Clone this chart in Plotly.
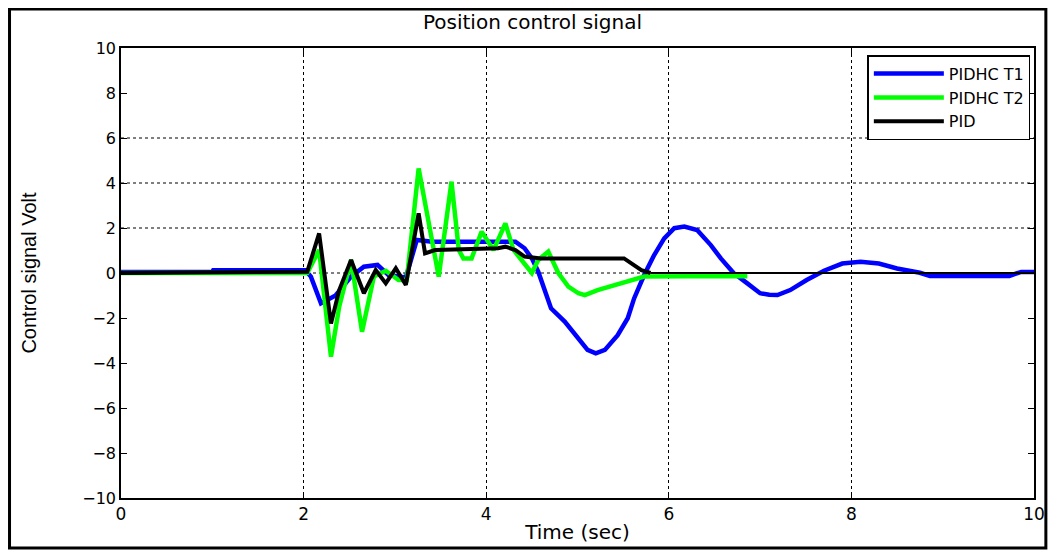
import plotly.graph_objects as go

# PIDHC T1 (blue)
t1_t = [0, 1.0, 1.01, 2.02, 2.08, 2.19, 2.35, 2.52, 2.66, 2.81, 2.93, 3.12, 3.24, 3.41, 4.0,
        4.32, 4.42, 4.5, 4.57, 4.64, 4.71, 4.86, 5.01, 5.11, 5.2, 5.3, 5.44, 5.55, 5.62, 5.73,
        5.84, 5.95, 6.06, 6.17, 6.31, 6.46, 6.57, 6.71, 6.86, 7.0, 7.1, 7.19, 7.33, 7.51, 7.7,
        7.9, 8.1, 8.3, 8.5, 8.75, 8.86, 9.73, 9.86, 10]
t1_v = [0.05, 0.05, 0.12, 0.12, -0.16, -1.35, -1.0, -0.16, 0.28, 0.36, -0.09, -0.2, 1.47,
        1.39, 1.39, 1.39, 1.1, 0.65, 0.06, -0.83, -1.57, -2.16, -2.9, -3.42, -3.57, -3.42,
        -2.76, -2.01, -1.13, -0.09, 0.8, 1.54, 1.99, 2.06, 1.91, 1.24, 0.65, 0.0, -0.46, -0.9,
        -0.97, -0.98, -0.76, -0.31, 0.1, 0.42, 0.5, 0.42, 0.2, 0.01, -0.13, -0.13, 0.05, 0.05]

# PIDHC T2 (green)
t2_t = [0, 2.04, 2.17, 2.3, 2.39, 2.52, 2.64, 2.77, 2.9, 3.04, 3.13, 3.26, 3.48, 3.62, 3.7,
        3.75, 3.84, 3.95, 4.08, 4.21, 4.3, 4.39, 4.5, 4.57, 4.68, 4.79, 4.9, 5.01, 5.08, 5.22,
        5.41, 5.59, 5.73, 6.2, 6.86]
t2_v = [0.0, 0.0, 1.02, -3.72, -1.5, 0.58, -2.61, -0.16, 0.1, -0.31, -0.31, 4.65, -0.16, 4.06,
        1.02, 0.65, 0.65, 1.84, 1.02, 2.2, 1.02, 0.58, 0.0, 0.58, 0.95, 0.0, -0.6, -0.9, -0.98,
        -0.76, -0.53, -0.31, -0.16, -0.14, -0.14]

# PID (black)
pid_t = [0, 2.04, 2.17, 2.3, 2.39, 2.52, 2.66, 2.79, 2.9, 3.01, 3.12, 3.26, 3.33, 3.44, 4.13,
         4.21, 4.32, 4.42, 4.6, 5.51, 5.59, 5.7, 5.8]
pid_v = [0.0, 0.06, 1.76, -2.24, -0.76, 0.58, -0.9, 0.13, -0.46, 0.21, -0.53, 2.65, 0.87,
         1.02, 1.1, 1.17, 1.02, 0.73, 0.65, 0.65, 0.43, 0.13, 0.0]
pid_tail_t = [5.8, 10]
pid_tail_v = [0.0, 0.0]

x_ticks = [0, 2, 4, 6, 8, 10]
y_ticks = [10, 8, 6, 4, 2, 0, -2, -4, -6, -8, -10]
y_grid = [0, 2, 4, 6]

font = "DejaVu Sans, Liberation Sans, Arial"

fig = go.Figure()
fig.add_trace(go.Scatter(x=t1_t, y=t1_v, mode="lines", name="PIDHC T1",
                         line=dict(color="#0000ff", width=4.5)))
fig.add_trace(go.Scatter(x=t2_t, y=t2_v, mode="lines", name="PIDHC T2",
                         line=dict(color="#00ff00", width=4.5)))
fig.add_trace(go.Scatter(x=pid_t, y=pid_v, mode="lines", name="PID",
                         line=dict(color="black", width=4)))
fig.add_trace(go.Scatter(x=pid_tail_t, y=pid_tail_v, mode="lines", showlegend=False,
                         line=dict(color="black", width=1.8)))

# dotted horizontal grid lines, only where the picture shows them
for yv in y_grid:
    fig.add_hline(y=yv, line=dict(color="black", width=1, dash="dot"), layer="below")

# the page body has an 8px margin, so the figure is 8px smaller than the window
fig.update_layout(
    width=1049, height=544,
    margin=dict(l=113, r=19, t=40, b=54),
    paper_bgcolor="white", plot_bgcolor="white",
    title=dict(text="Position control signal", x=0.5, xanchor="center",
               y=0.974, yanchor="middle",
               font=dict(family=font, size=20, color="black")),
    font=dict(family=font, color="black"),
    showlegend=True,
    legend=dict(x=0.996, y=0.984, xanchor="right", yanchor="top",
                bgcolor="white", bordercolor="black", borderwidth=1.5,
                font=dict(family=font, size=16, color="black"),
                itemwidth=70, tracegroupgap=0),
)

fig.update_xaxes(range=[0, 10], tickvals=x_ticks,
                 ticks="inside", ticklen=6, tickcolor="black", mirror="ticks",
                 showline=True, linecolor="black", linewidth=1.5,
                 showgrid=True, gridcolor="black", griddash="dot", gridwidth=1,
                 zeroline=False, tickfont=dict(size=17),
                 title=dict(text="Time (sec)", font=dict(size=20), standoff=2))
fig.update_yaxes(range=[-10, 10], tickvals=y_ticks,
                 ticks="inside", ticklen=6, tickcolor="black", mirror="ticks",
                 showline=True, linecolor="black", linewidth=1.5,
                 showgrid=False, zeroline=False, tickfont=dict(size=16),
                 title=dict(text="Control signal Volt", standoff=40,
                            font=dict(family="Liberation Sans Narrow, Liberation Sans", size=20)))

# outer frame around the whole figure
fig.add_shape(type="rect", xref="paper", yref="paper",
              x0=-0.1221, x1=1.013, y0=-0.111, y1=1.0867,
              line=dict(color="black", width=3))

fig.write_html("out.html")
